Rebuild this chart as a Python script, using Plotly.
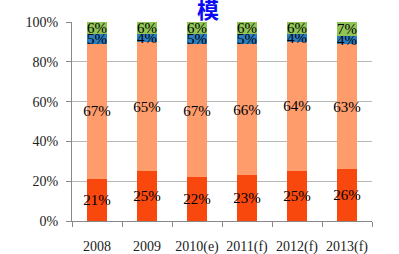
import plotly.graph_objects as go

categories = ["2008", "2009", "2010(e)", "2011(f)", "2012(f)", "2013(f)"]
s_bottom = [21, 25, 22, 23, 25, 26]
s_middle = [67, 65, 67, 66, 64, 63]
s_blue = [5, 4, 5, 5, 4, 4]
s_green = [6, 6, 6, 6, 6, 7]
title_text = "模"

series = [
    (s_bottom, "#F8480E"),
    (s_middle, "#FE9C6C"),
    (s_blue, "#2A7DC0"),
    (s_green, "#90C556"),
]

fig = go.Figure()
for vals, col in series:
    fig.add_trace(go.Bar(
        x=categories, y=vals,
        marker=dict(color=col, line=dict(width=0)),
        text=[f"{v}%" for v in vals],
        textposition="inside", insidetextanchor="middle", textangle=0,
        constraintext="none", cliponaxis=False,
        textfont=dict(family="Liberation Serif", size=15, color="black"),
        hoverinfo="skip",
    ))

fig.update_layout(
    barmode="stack", barnorm="percent", bargap=0.6,
    width=399, height=254,
    margin=dict(l=72, r=27, t=22, b=33, autoexpand=False),
    paper_bgcolor="white", plot_bgcolor="white",
    showlegend=False,
    font=dict(family="Liberation Serif", size=14, color="#222"),
    annotations=[dict(
        text=f"<b>{title_text}</b>", xref="paper", yref="paper",
        x=0.453, y=1.0, yshift=14, showarrow=False,
        font=dict(family="Noto Sans CJK SC", size=22, color="#0A0AF5"),
        yanchor="middle",
    )],
)
fig.update_yaxes(
    range=[0, 100.02], tickvals=[0, 20, 40, 60, 80, 100],
    ticktext=["0%", "20%", "40%", "60%", "80%", "100%"],
    showgrid=True, gridcolor="#B8B8B8", gridwidth=1,
    showline=True, linecolor="#888", linewidth=1,
    ticks="outside", ticklen=5, tickcolor="#888",
    zeroline=False, automargin=False, ticklabelstandoff=5,
)
fig.update_xaxes(
    showline=True, linecolor="#888", linewidth=1,
    ticks="outside", ticklen=5, tickcolor="#888", tickson="boundaries",
    ticklabelstandoff=12, automargin=False, tickangle=0,
)

fig.write_html(
    "out.html",
    config={"displayModeBar": False},
    post_script="document.body.style.margin='0';document.body.style.overflow='hidden';",
)
